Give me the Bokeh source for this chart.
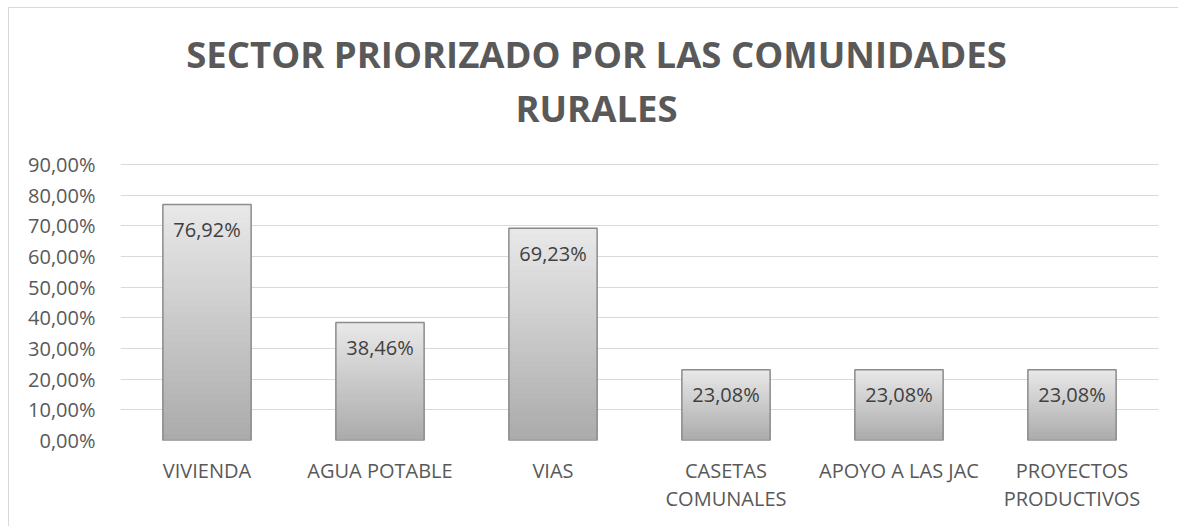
from bokeh.plotting import figure
from bokeh.models import Label, FixedTicker, ColumnDataSource
from bokeh.core.properties import value
from bokeh.embed import file_html
from bokeh.resources import INLINE

# ---- data ----
categories = ["VIVIENDA", "AGUA POTABLE", "VIAS", "CASETAS\nCOMUNALES",
              "APOYO A LAS JAC", "PROYECTOS\nPRODUCTIVOS"]
values = [76.92, 38.46, 69.23, 23.08, 23.08, 23.08]
y_ticks = [0, 10, 20, 30, 40, 50, 60, 70, 80, 90]
y_tick_labels = ["0,00%", "10,00%", "20,00%", "30,00%", "40,00%", "50,00%",
                 "60,00%", "70,00%", "80,00%", "90,00%"]
title_lines = ["SECTOR PRIORIZADO POR LAS COMUNIDADES", "RURALES"]

FONT = "Open Sans"
TXT = "#595959"

# layout (pixels): frame from canvas top to bottom border 87; top gridline (90 %)
# must sit 156 px below the canvas top, so the range is extended above it
H = 519
BOTTOM = 87
frame_h = H - BOTTOM
y_max = y_ticks[-1] * frame_h / (frame_h - 156)

p = figure(x_range=categories, y_range=(0, y_max), width=1170, height=H,
           output_backend="svg", toolbar_location=None,
           min_border_left=111, min_border_right=21,
           min_border_top=0, min_border_bottom=BOTTOM)
p.styles = {"margin-left": "8px", "margin-top": "7px",
            "border-left": "1px solid #d9d9d9", "border-top": "1px solid #d9d9d9"}
p.outline_line_color = None
p.background_fill_color = "white"
p.border_fill_color = "white"

# gradient bars built from slices of each value
n = 40
xs, bots, tops, cols = [], [], [], []
c_top = (0xe8, 0xe8, 0xe8)
c_bot = (0xab, 0xab, 0xab)
for c, v in zip(categories, values):
    for i in range(n):
        t = i / (n - 1)
        col = tuple(int(round(c_bot[k] + (c_top[k] - c_bot[k]) * t)) for k in range(3))
        xs.append(c)
        bots.append(v * i / n)
        tops.append(v * (i + 1) / n)
        cols.append("#%02x%02x%02x" % col)
src = ColumnDataSource(dict(x=xs, bottom=bots, top=tops, color=cols))
p.vbar(x="x", bottom="bottom", top="top", width=0.51, fill_color="color",
       line_color="color", line_width=1, source=src)
p.vbar(x=categories, top=values, width=0.51, fill_alpha=0,
       line_color="#8c8c8c", line_width=1.5)

# data labels
labels = [("%.2f" % v).replace(".", ",") + "%" for v in values]
p.text(x=categories, y=values, text=labels, y_offset=25,
       text_align="center", text_baseline="middle",
       text_font=value(FONT), text_font_size="20px", text_color="#404040")

# axes
p.xgrid.grid_line_color = None
p.ygrid.grid_line_color = "#d9d9d9"
p.ygrid.grid_line_width = 1
p.yaxis.ticker = FixedTicker(ticks=y_ticks)
p.yaxis.major_label_overrides = {t: l for t, l in zip(y_ticks, y_tick_labels)}
for ax in (p.xaxis[0], p.yaxis[0]):
    ax.axis_line_color = None
    ax.major_tick_line_color = None
    ax.minor_tick_line_color = None
    ax.major_label_text_font = FONT
    ax.major_label_text_font_size = "20px"
    ax.major_label_text_color = TXT
p.yaxis.major_label_standoff = 19
p.xaxis.major_label_standoff = 10
p.xaxis.major_label_text_line_height = 1.05

# title (screen units relative to the plot frame)
p.add_layout(Label(x=476, y=387, x_units="screen", y_units="screen",
                   text=title_lines[0], text_align="center", text_baseline="middle",
                   text_font=FONT, text_font_style="bold", text_font_size="36.5px",
                   text_color=TXT))
p.add_layout(Label(x=476, y=333, x_units="screen", y_units="screen",
                   text=title_lines[1], text_align="center", text_baseline="middle",
                   text_font=FONT, text_font_style="bold", text_font_size="36.5px",
                   text_color=TXT))

open("out.html", "w").write(file_html(p, INLINE))
